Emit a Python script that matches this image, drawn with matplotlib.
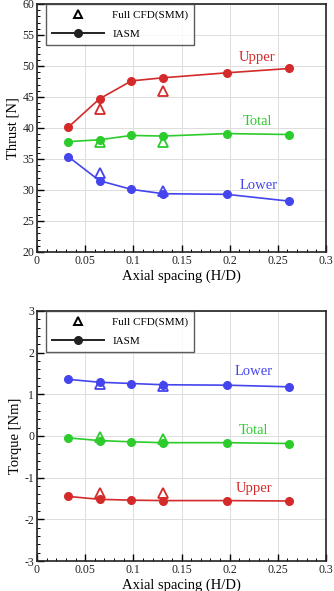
import matplotlib
matplotlib.use("Agg")
import matplotlib.pyplot as plt
from matplotlib.lines import Line2D
from matplotlib.ticker import MultipleLocator

plt.rcParams['font.family'] = ['Liberation Serif', 'DejaVu Serif']
plt.rcParams['axes.unicode_minus'] = False

# data
hd = [0.0323, 0.0649, 0.098, 0.131, 0.197, 0.262]
hd_cfd = [0.0649, 0.131]

thrust_upper = [40.1, 44.7, 47.6, 48.1, 48.9, 49.6]
thrust_total = [37.8, 38.1, 38.8, 38.7, 39.1, 38.95]
thrust_lower = [35.4, 31.5, 30.1, 29.4, 29.3, 28.2]
thrust_upper_cfd = [43.0, 45.9]
thrust_total_cfd = [37.8, 37.8]
thrust_lower_cfd = [32.8, 29.9]

torque_lower = [1.36, 1.29, 1.26, 1.23, 1.22, 1.18]
torque_total = [-0.045, -0.11, -0.14, -0.16, -0.16, -0.18]
torque_upper = [-1.45, -1.52, -1.54, -1.55, -1.55, -1.56]
torque_lower_cfd = [1.24, 1.21]
torque_total_cfd = [-0.02, -0.06]
torque_upper_cfd = [-1.36, -1.36]

red = '#d42a2a'
green = '#2ccc2c'
blue = '#4545ee'

fig = plt.figure(figsize=(3.34, 5.91), dpi=100)
ax1 = fig.add_axes([37/334, 1 - 252/591, 289/334, 248/591])
ax2 = fig.add_axes([37/334, 1 - 561/591, 289/334, 250/591])


def style(ax, ymin, ymax, ymaj, ymin_step, ylabel):
    ax.set_xlim(0, 0.3)
    ax.set_ylim(ymin, ymax)
    ax.yaxis.set_major_locator(MultipleLocator(ymaj))
    ax.yaxis.set_minor_locator(MultipleLocator(ymin_step))
    ax.xaxis.set_minor_locator(MultipleLocator(0.01))
    ax.set_xticks([0, 0.05, 0.1, 0.15, 0.2, 0.25, 0.3])
    ax.set_xticklabels(['0', '0.05', '0.1', '0.15', '0.2', '0.25', '0.3'])
    ax.tick_params(which='both', direction='in', labelsize=8.5, pad=2,
                   labelcolor='#222222')
    ax.tick_params(which='major', length=5, width=1.0)
    ax.tick_params(which='minor', length=2.5, width=0.7)
    ax.grid(True, which='major', color='#dddddd', lw=0.7)
    ax.set_axisbelow(True)
    for s in ax.spines.values():
        s.set_color('#222222')
        s.set_linewidth(1.2)
    ax.set_xlabel('Axial spacing (H/D)', fontsize=10.5, labelpad=2)
    ax.set_ylabel(ylabel, fontsize=10.5, labelpad=2)
    h1 = Line2D([], [], ls='none', marker='^', mfc='none', mec='black', ms=6, mew=1.4)
    h2 = Line2D([], [], color='#222222', lw=1.4, marker='o', ms=5.5)
    leg = ax.legend([h1, h2], ['Full CFD(SMM)', 'IASM'], loc='upper left',
                    bbox_to_anchor=(9/289, 1.0), fontsize=8, frameon=True,
                    fancybox=False, handlelength=4.7, borderaxespad=0,
                    handletextpad=0.7, borderpad=0.55, labelspacing=0.85)
    leg.get_frame().set_edgecolor('#333333')
    leg.get_frame().set_linewidth(1.0)


def series(ax, y, ycfd, c):
    ax.plot(hd, y, color=c, lw=1.2, marker='o', ms=5.5, zorder=3)
    ax.plot(hd_cfd, ycfd, ls='none', marker='^', mfc='none', mec=c, ms=6.5,
            mew=1.3, zorder=4)


series(ax1, thrust_upper, thrust_upper_cfd, red)
series(ax1, thrust_total, thrust_total_cfd, green)
series(ax1, thrust_lower, thrust_lower_cfd, blue)
style(ax1, 20, 60, 5, 1, 'Thrust [N]')
ax1.text(0.228, 51.4, 'Upper', color=red, fontsize=10.5, ha='center', va='center')
ax1.text(0.229, 41.1, 'Total', color=green, fontsize=10.5, ha='center', va='center')
ax1.text(0.23, 30.7, 'Lower', color=blue, fontsize=10.5, ha='center', va='center')

series(ax2, torque_lower, torque_lower_cfd, blue)
series(ax2, torque_total, torque_total_cfd, green)
series(ax2, torque_upper, torque_upper_cfd, red)
style(ax2, -3, 3, 1, 0.2, 'Torque [Nm]')
ax2.text(0.225, 1.54, 'Lower', color=blue, fontsize=10.5, ha='center', va='center')
ax2.text(0.225, 0.12, 'Total', color=green, fontsize=10.5, ha='center', va='center')
ax2.text(0.225, -1.25, 'Upper', color=red, fontsize=10.5, ha='center', va='center')

fig.savefig('out.png', dpi=100)
